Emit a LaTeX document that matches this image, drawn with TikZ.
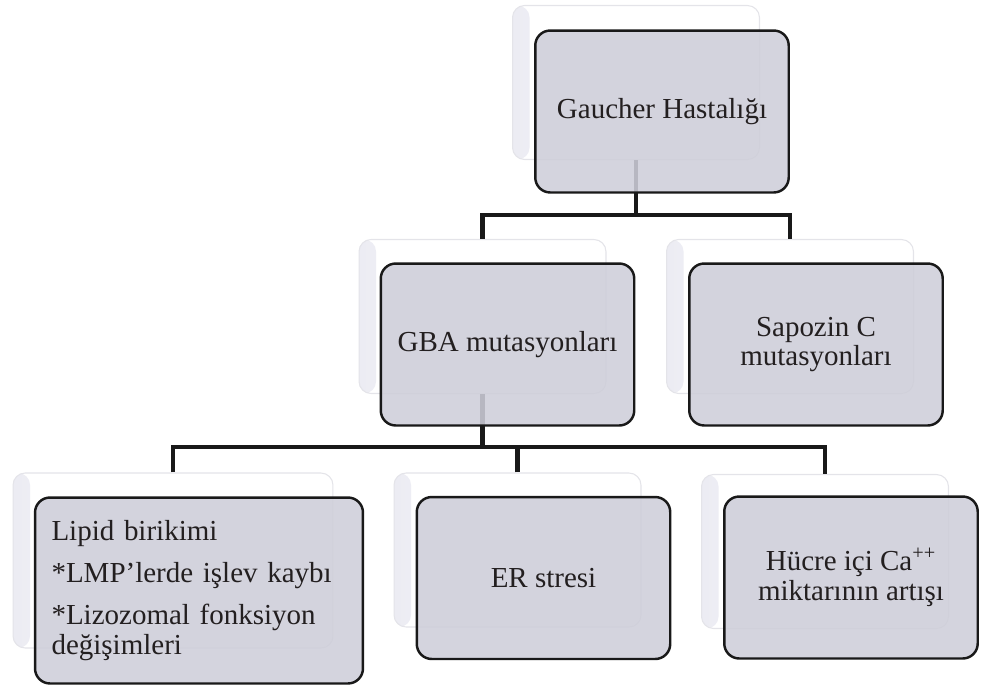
\documentclass[tikz,border=0pt]{standalone}
\usepackage{fontspec}
\setmainfont{Liberation Serif}
\usetikzlibrary{positioning}
\definecolor{boxgray}{RGB}{206, 206, 217}
\definecolor{edgegray}{RGB}{228, 228, 233}
\definecolor{bevellight}{RGB}{236, 236, 243}
\definecolor{beveldark}{RGB}{212, 212, 227}
\definecolor{linkblack}{RGB}{25, 25, 25}
\definecolor{textblack}{RGB}{35, 31, 32}
\definecolor{white}{RGB}{255, 255, 255}

\begin{document}
\begin{tikzpicture}[
        x=0.02cm,
        y=-0.02cm,
        back/.style={
            draw=edgegray,
            line width=0.6pt,
            fill=white,
            rounded corners=0.24cm,
            minimum width=4.94cm,
            minimum height=3.08cm,
            path picture={\shade[left color=bevellight, middle color=beveldark, right color=white]
                (path picture bounding box.south west) rectangle
                ([xshift=0.34cm]path picture bounding box.north west);}
        },
        front/.style={
            draw=linkblack,
            line width=1.4pt,
            fill=boxgray,
            fill opacity=0.88,
            text opacity=1,
            rounded corners=0.3cm,
            minimum width=5.07cm,
            minimum height=3.24cm,
            text=textblack,
            align=center,
            font=\fontsize{16.5}{17}\selectfont
        },
        link/.style={
            draw=linkblack,
            line width=2.8pt
        }
    ]
    \useasboundingbox (0,0) rectangle (981,684);

    % back boxes
    \node[back] (gaucher-back) at (636,82.5) {};
    \node[back] (gba-back) at (482.5,316.5) {};
    \node[back] (sapozin-back) at (790,316.5) {};
    \node[back, minimum width=6.4cm, minimum height=3.5cm] (lipid-back) at (173,560.5) {};
    \node[back] (er-back) at (517.5,550) {};
    \node[back] (hucre-back) at (825,551.5) {};

    % connectors
    \coordinate (top-bar) at (636,215);
    \coordinate (gba-bar) at (482.5,447);
    \draw[link] (gaucher-back.south) -- (top-bar);
    \draw[link] (gba-back.north) |- (top-bar) -| (sapozin-back.north);
    \draw[link] (gba-back.south) -- (gba-bar);
    \draw[link] (lipid-back.north) |- (gba-bar) -| (hucre-back.north);
    \draw[link] (er-back.north) -- (er-back.north |- gba-bar);

    % front boxes
    \node[front] (gaucher) at ([shift={(26,29)}]gaucher-back) {Gaucher Hastalığı};
    \node[front] (gba) at ([shift={(25,28)}]gba-back) {GBA mutasyonları};
    \node[front] (sapozin) at ([shift={(26,28)}]sapozin-back) {Sapozin C\\ mutasyonları};
    \node[front, minimum width=6.56cm, minimum height=3.72cm, align=left, text width=5.9cm]
        (lipid) at ([shift={(26,30)}]lipid-back) {Lipid birikimi\\[7pt]
        *LMP’lerde işlev kaybı\\[7pt]
        *Lizozomal fonksiyon\\ değişimleri};
    \node[front] (er) at ([shift={(26,28)}]er-back) {ER stresi};
    \node[front] (hucre) at ([shift={(26,26)}]hucre-back) {Hücre içi Ca\textsuperscript{++}\\ miktarının artışı};
\end{tikzpicture}
\end{document}
